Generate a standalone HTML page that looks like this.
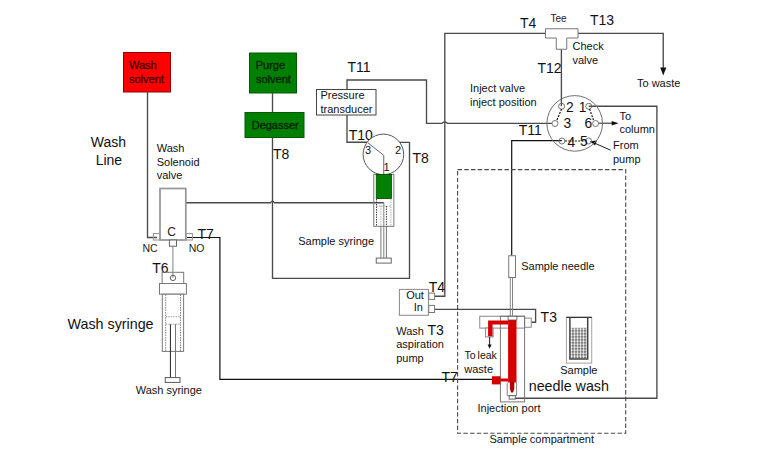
<!DOCTYPE html>
<html>
<head>
<meta charset="utf-8">
<style>
html,body{margin:0;padding:0;background:#fff;width:772px;height:472px;overflow:hidden;}
svg{display:block;font-family:"Liberation Sans",sans-serif;}
.t{font-size:11px;fill:#111;}
.T{font-size:14px;fill:#111;}
.big{font-size:14.3px;fill:#111;}
.pipe{fill:none;stroke:#4a4a4a;stroke-width:1.35;}
.blk{fill:none;stroke:#111;stroke-width:1.2;}
.gr{fill:none;stroke:#808080;stroke-width:1;}
.gd{fill:#fff;stroke:#7a7a7a;stroke-width:1;}
</style>
</head>
<body>
<svg width="772" height="472" viewBox="0 0 772 472">
<defs>
<pattern id="hatch" x="570" y="327.7" width="3" height="3" patternUnits="userSpaceOnUse">
<rect width="3" height="3" fill="#555"/>
<circle cx="1.5" cy="1.5" r="1.2" fill="#fff"/>
</pattern>
</defs>

<!-- ===== Wash solvent ===== -->
<rect x="123.5" y="52.5" width="47" height="39.5" fill="#f00" stroke="#900000" stroke-width="1"/>
<text x="129" y="68.7" style="font-size:11px;fill:#4a0000;stroke:#4a0000;stroke-width:0.35">Wash</text>
<text x="129" y="82.5" style="font-size:11px;fill:#4a0000;stroke:#4a0000;stroke-width:0.35">solvent</text>

<!-- ===== Purge solvent ===== -->
<rect x="249.5" y="53" width="47" height="40" fill="#008000" stroke="#005a00" stroke-width="1"/>
<text x="255.7" y="68.7" style="font-size:11px;fill:#002200;stroke:#002200;stroke-width:0.35">Purge</text>
<text x="256" y="82.5" style="font-size:11px;fill:#002200;stroke:#002200;stroke-width:0.35">solvent</text>
<rect x="245" y="112.5" width="59" height="25" fill="#008000" stroke="#005a00" stroke-width="1"/>
<text x="251.7" y="128.7" style="font-size:11px;fill:#002200;stroke:#002200;stroke-width:0.35">Degasser</text>

<!-- labels left -->
<text x="90.7" y="147" class="big" style="font-size:14px">Wash</text>
<text x="95.7" y="164.5" class="big" style="font-size:14px">Line</text>
<text x="156.7" y="151.7" class="t">Wash</text>
<text x="156.7" y="165.7" class="t">Solenoid</text>
<text x="156.7" y="179.2" class="t">valve</text>

<!-- ===== pipes ===== -->
<!-- wash solvent down to NC -->
<path class="pipe" d="M147.5,92 V237.5 H157"/>
<!-- purge to degasser -->
<path class="pipe" d="M272.5,93 V112.5"/>
<!-- degasser down, box to T8 -->
<path class="pipe" d="M272.5,137.5 V278.3 H409.5 V142.3 H399"/>
<!-- solenoid to sample syringe plunger, bridge over 272.5 -->
<path class="pipe" d="M185.6,202.75 H270.6 Q272.5,199.6 274.4,202.75 H383.8"/>
<path class="gr" d="M383.8,202.5 V258"/>
<!-- T10 / T11 path -->
<path class="pipe" d="M368,142.25 H347 V115"/>
<path class="pipe" d="M347,89.3 V80 H426.5 V123.4 H441.7 Q444.8,120.6 447.7,123.4 H552"/>
<!-- T4 vertical from Out to tee -->
<path class="pipe" d="M434.6,296.25 H444.8 V33.4 H545.5"/>
<!-- tee right to waste -->
<path class="pipe" d="M578,33.4 H663.25 V68"/>
<path d="M660.2,67.6 L666.3,67.6 L663.25,75.4 Z" fill="#111"/>
<!-- tee stem to port 2 -->
<path class="pipe" d="M561.4,49.25 V106.25"/>
<!-- port 1 to right and down to needle tip -->
<path class="pipe" d="M588.75,106.25 H656.9 V398.25 H510"/>
<!-- port 6 arrow to column -->
<path d="M598.6,123.2 H612" stroke="#222" stroke-width="1" fill="none"/>
<path d="M611.7,120.9 L618.6,123.2 L611.7,125.5 Z" fill="#111"/>
<!-- from pump arrow -->
<path d="M610.6,150.2 L595,143.3" stroke="#222" stroke-width="1" fill="none"/>
<path d="M589.8,141.2 L597,140.6 L595,145.4 Z" fill="#111"/>
<!-- port 4 to needle -->
<path class="blk" d="M561.9,140.6 H511.7 V255.75"/>
<!-- In line to injection block T3 -->
<path class="pipe" d="M434.6,309.4 H535.6 V322.25 H531.25"/>
<!-- NO line to T7 -->
<path class="blk" d="M187,237.5 H219.9 V379.3 H492"/>
<!-- C to wash syringe -->
<path class="gr" d="M172.9,246.25 V277.9"/>

<!-- ===== Pressure transducer ===== -->
<rect x="316.5" y="89.5" width="59.5" height="25.5" fill="#fff" stroke="#444" stroke-width="1"/>
<text x="320.5" y="98.7" class="t">Pressure</text>
<text x="320.5" y="112.5" class="t">transducer</text>
<text x="347.5" y="72" class="T">T11</text>
<text x="348.7" y="139.7" class="T">T10</text>
<text x="412.5" y="162.5" class="T">T8</text>
<text x="273" y="159.2" class="T">T8</text>

<!-- ===== Sample syringe ===== -->
<circle cx="383.4" cy="154.4" r="20.3" fill="#fff" stroke="#555" stroke-width="1"/>
<path class="gr" d="M368,142.9 L383.75,155.4 V174" style="stroke:#666"/>
<text x="365" y="153.7" style="font-size:11px;fill:#111">3</text>
<text x="395" y="153.7" style="font-size:11px;fill:#111">2</text>
<text x="383.4" y="170.7" style="font-size:11px;fill:#111">1</text>
<rect x="373.75" y="174.4" width="20.1" height="51.9" fill="none" stroke="#777" stroke-width="1"/>
<rect x="376.25" y="174.4" width="15.2" height="24.2" fill="#008000" stroke="#004a00" stroke-width="0.8"/>
<path d="M376.5,199 V226" stroke="#333" stroke-width="0.9" stroke-dasharray="1.5,1" fill="none"/>
<path d="M390.9,199 V226 M376.5,206.1 H390.9" stroke="#999" stroke-width="0.8" stroke-dasharray="1.5,1" fill="none"/>
<path d="M380.9,206 V226" stroke="#999" stroke-width="0.8" stroke-dasharray="1.5,1" fill="none"/>
<path d="M386.4,206 V226" stroke="#333" stroke-width="0.9" stroke-dasharray="1.5,1" fill="none"/>
<path d="M380.9,226 V258 M386.4,226 V258" stroke="#666" stroke-width="0.9" fill="none"/>
<rect x="376.25" y="258.1" width="15" height="5" fill="#fff" stroke="#666" stroke-width="1"/>
<text x="298.2" y="244.5" class="t">Sample syringe</text>

<!-- ===== Wash solenoid valve ===== -->
<rect x="160" y="188.5" width="25.8" height="51.5" fill="#fff" stroke="#959595" stroke-width="1.7"/>
<rect x="153.4" y="233.5" width="6.6" height="6.5" fill="none" stroke="#999" stroke-width="1.1"/>
<rect x="185.9" y="233.5" width="6.6" height="6.5" fill="none" stroke="#999" stroke-width="1.1"/>
<rect x="169.4" y="240" width="7.1" height="6.25" fill="#fff" stroke="#666" stroke-width="1"/>
<text x="167.3" y="235.8" style="font-size:12px;fill:#222">C</text>
<text x="142.5" y="251.5" style="font-size:10.5px;fill:#222">NC</text>
<text x="188.7" y="251.5" style="font-size:10.5px;fill:#222">NO</text>
<text x="197.5" y="238.5" class="T">T7</text>
<text x="152.3" y="272.8" class="T">T6</text>

<!-- ===== Wash syringe ===== -->
<rect x="162.1" y="272.3" width="21.6" height="11.2" fill="none" stroke="#777" stroke-width="1"/>
<circle cx="173" cy="277.9" r="2.7" fill="none" stroke="#555" stroke-width="0.9"/>
<rect x="159.5" y="283.5" width="26.9" height="10.7" fill="#fff" stroke="#777" stroke-width="1"/>
<rect x="162.3" y="294.2" width="21.3" height="57.2" fill="#fff" stroke="#777" stroke-width="1"/>
<path d="M165.7,294.5 V351 M180.5,294.5 V351" stroke="#666" stroke-width="0.8" stroke-dasharray="1.5,1" fill="none"/>
<path d="M165.7,316.7 H180.5 M165.7,324.2 H180.5" stroke="#888" stroke-width="0.8" stroke-dasharray="1.5,1" fill="none"/>
<path d="M170.4,324.2 V377.6" stroke="#222" stroke-width="1" fill="none"/>
<path d="M175.5,324.2 V377.6" stroke="#777" stroke-width="1" fill="none"/>
<rect x="165.25" y="377.6" width="14.75" height="4.8" fill="#fff" stroke="#555" stroke-width="1"/>
<text x="67.5" y="328.7" class="big">Wash syringe</text>
<text x="135.7" y="393.7" class="t">Wash syringe</text>

<!-- ===== Tee ===== -->
<path d="M545.5,28.75 H578 V38 H566.75 V49.25 H556.25 V38 H545.5 Z" fill="#fff" stroke="#777" stroke-width="1"/>
<text x="550.5" y="21.7" style="font-size:10px;fill:#222">Tee</text>
<text x="520" y="27.5" class="T">T4</text>
<text x="590" y="25" class="T">T13</text>
<text x="572.5" y="50" class="t">Check</text>
<text x="572.5" y="63.7" class="t">valve</text>
<text x="537.5" y="73" class="T">T12</text>
<text x="637" y="86.9" class="t">To waste</text>
<text x="470" y="91.7" class="t">Inject valve</text>
<text x="470" y="105.5" class="t">inject position</text>

<!-- ===== Inject valve ===== -->
<circle cx="574.7" cy="123.4" r="27.8" fill="none" stroke="#707070" stroke-width="1"/>
<circle cx="561.6" cy="106.25" r="3" fill="none" stroke="#666" stroke-width="0.9"/>
<circle cx="588.75" cy="106.25" r="3" fill="none" stroke="#666" stroke-width="0.9"/>
<circle cx="555" cy="123.5" r="3" fill="none" stroke="#666" stroke-width="0.9"/>
<circle cx="595.6" cy="123.5" r="3" fill="none" stroke="#666" stroke-width="0.9"/>
<circle cx="561.9" cy="141" r="3" fill="none" stroke="#666" stroke-width="0.9"/>
<circle cx="588.5" cy="141" r="3" fill="none" stroke="#666" stroke-width="0.9"/>
<path d="M561.6,109 L556.9,120 M589.5,109 L593.5,120 M565,141 H585.5" stroke="#111" stroke-width="1.2" stroke-dasharray="2,1.3" fill="none"/>
<text x="566" y="111.9" style="font-size:13.8px;fill:#111">2</text>
<text x="578.7" y="111.9" style="font-size:13.8px;fill:#111">1</text>
<text x="563.5" y="128.1" style="font-size:13.8px;fill:#111">3</text>
<text x="584.6" y="128.1" style="font-size:13.8px;fill:#111">6</text>
<text x="567.5" y="146.9" style="font-size:13.8px;fill:#111">4</text>
<text x="580" y="146.3" style="font-size:13.8px;fill:#111">5</text>
<text x="518.7" y="134.5" class="T">T11</text>
<text x="619.5" y="119.5" class="t">To</text>
<text x="619.5" y="133.2" class="t">column</text>
<text x="613" y="149.2" class="t">From</text>
<text x="613" y="162.5" class="t">pump</text>

<!-- ===== Sample compartment ===== -->
<rect x="457.6" y="169.6" width="168.1" height="263.6" fill="none" stroke="#484848" stroke-width="1.1" stroke-dasharray="4.4,2.3"/>
<text x="489.5" y="442.7" class="t">Sample compartment</text>

<!-- needle -->
<rect x="508.75" y="255.75" width="6.75" height="21.75" fill="#fff" stroke="#777" stroke-width="1"/>
<path d="M510.3,277.5 V316.25 M512.5,277.5 V316.25" stroke="#777" stroke-width="0.9" fill="none"/>
<text x="521.2" y="270" class="t">Sample needle</text>

<!-- Out/In pump -->
<rect x="399.4" y="289.4" width="29" height="25.85" fill="#fff" stroke="#888" stroke-width="1"/>
<rect x="428.75" y="293.1" width="5.85" height="6.3" fill="#fff" stroke="#777" stroke-width="1"/>
<rect x="428.75" y="305.4" width="5.85" height="7.1" fill="#fff" stroke="#777" stroke-width="1"/>
<text x="406.2" y="298.5" class="t">Out</text>
<text x="423" y="311.2" class="t" text-anchor="end">In</text>
<text x="428.7" y="292.4" class="T">T4</text>
<text x="396.2" y="335" class="t">Wash</text>
<text x="396.2" y="348" class="t">aspiration</text>
<text x="396.2" y="362.3" class="t">pump</text>
<text x="427.5" y="334.7" class="T">T3</text>

<!-- injection port -->
<rect x="479.75" y="316.25" width="44.85" height="11.85" fill="#fff" stroke="#888" stroke-width="1"/>
<rect x="524.6" y="318.1" width="6.65" height="9.15" fill="#fff" stroke="#888" stroke-width="1"/>
<rect x="500.4" y="316.25" width="24.2" height="85.65" fill="none" stroke="#777" stroke-width="1"/>
<rect x="485.6" y="328" width="7.5" height="8.9" fill="#fff" stroke="#888" stroke-width="1"/>
<path d="M488.1,320.6 H508.1 V324.4 H492.5 V336.25 H488.1 Z" fill="#d40000"/>
<rect x="508.1" y="320" width="8.4" height="62.5" fill="#d40000"/>
<rect x="508.1" y="316.25" width="8.8" height="3.75" fill="#fff" stroke="#555" stroke-width="0.8"/>
<path d="M507.2,382.5 V395.7 H516.6 V382.5" fill="none" stroke="#777" stroke-width="0.9"/>
<path d="M509.9,382 H514.3 V388.5 L513.2,392.5 H511 L509.9,388.5 Z" fill="#b00000"/>
<rect x="509.2" y="395.7" width="6.1" height="3.4" fill="#fff" stroke="#555" stroke-width="0.9"/>
<rect x="491.9" y="376.25" width="8.5" height="8.15" fill="#d40000"/>
<rect x="500.4" y="378.5" width="7.7" height="3" fill="#d40000"/>
<path d="M489.6,337 V345" stroke="#222" stroke-width="1" fill="none"/>
<path d="M487.6,344.4 L491.6,344.4 L489.6,348.75 Z" fill="#111"/>
<text x="540.6" y="321.5" class="T">T3</text>
<text x="441.5" y="382.1" class="T">T7</text>
<text x="464.5" y="359.4" style="font-size:10.5px;fill:#111;word-spacing:-0.9px">To leak</text>
<text x="464.3" y="373.3" class="t">waste</text>
<text x="477.5" y="411.6" class="t">Injection port</text>

<!-- sample vial -->
<rect x="566.35" y="317.2" width="25.4" height="45.9" fill="#fff" stroke="#999" stroke-width="0.9"/>
<rect x="570.5" y="327.8" width="16.6" height="30.8" fill="url(#hatch)"/>
<path d="M566.35,317.4 H591.8" stroke="#333" stroke-width="1.2"/>
<path d="M569.9,317.5 V358.9 H587.7 V317.5" stroke="#444" stroke-width="1.5" fill="none"/>
<text x="560.2" y="374" class="t">Sample</text>
<text x="528.7" y="391.3" class="big">needle wash</text>
</svg>
</body>
</html>
